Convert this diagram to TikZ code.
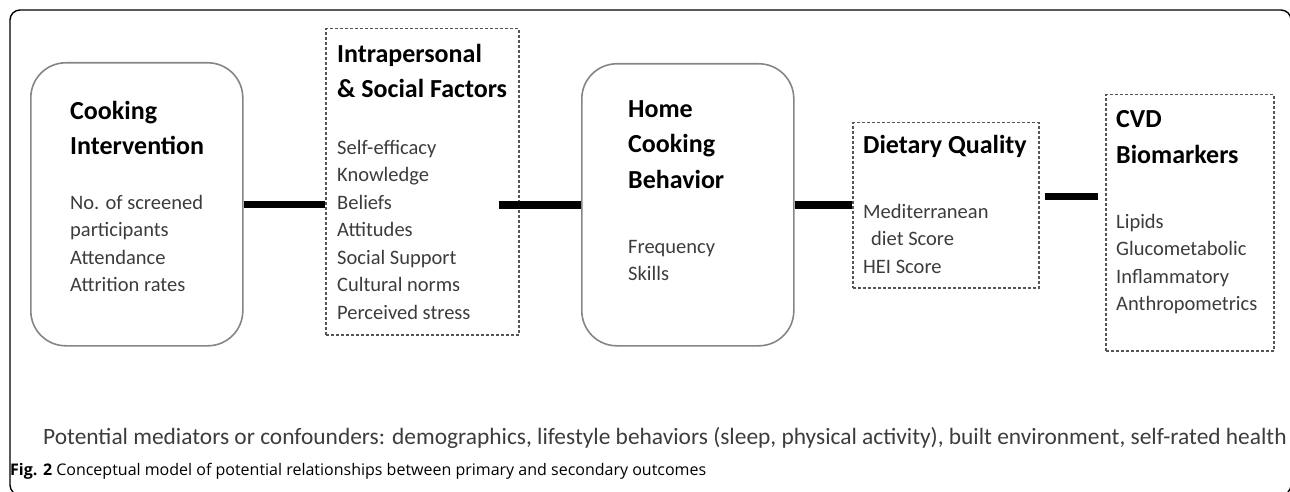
\documentclass[tikz,border=0pt]{standalone}
\usepackage{fontspec}
\setmainfont{Carlito}
\newfontfamily\capfont{Open Sans}
\usepackage{tikz}
\usetikzlibrary{calc}
\definecolor{edge}{HTML}{858585}
\definecolor{dotc}{HTML}{555555}
\definecolor{bodyc}{HTML}{3C3C3C}
\tikzset{
  outer/.style={draw=black, line width=1.4pt, rounded corners=10pt},
  rbox/.style={draw=edge, line width=1.6pt, rounded corners=35pt, anchor=north west, inner sep=0pt},
  dbox/.style={draw=dotc, line width=1.5pt, dash pattern=on 3pt off 2pt, anchor=north west, inner sep=0pt},
  link/.style={draw=black, line width=7.5pt},
  head/.style={anchor=north west, inner sep=0pt, align=left, font=\bfseries\fontsize{26}{35.3}\selectfont},
  body/.style={anchor=north west, inner sep=0pt, align=left, text=bodyc, font=\fontsize{20.5}{27.5}\selectfont},
  note/.style={anchor=base west, inner sep=0pt, text=bodyc, font=\fontsize{23.4}{26}\selectfont},
  capt/.style={anchor=base west, inner sep=0pt, font=\capfont\fontsize{16}{19}\selectfont},
}
\begin{document}
\begin{tikzpicture}[x=1pt,y=-1pt]
  \useasboundingbox (0,0) rectangle (1290,492);
  \clip (0,0) rectangle (1290,492);
  \draw[outer] (10,10) rectangle (1291,495);

  \node[rbox, minimum width=212pt, minimum height=283pt] (interv) at (30,62) {};
  \node[dbox, minimum width=193pt, minimum height=306pt] (intra) at (325,28) {};
  \node[rbox, minimum width=212pt, minimum height=282pt] (home) at (581,63) {};
  \node[dbox, minimum width=186pt, minimum height=165pt] (diet) at (852,122) {};
  \node[dbox, minimum width=168pt, minimum height=256pt] (cvd) at (1105,94) {};

  \node[head] (intervh) at (70,100.8) {Cooking\\Intervention};
  \node[body] (intervb) at (70,194.6) {No. of screened\\participants\\Attendance\\Attrition rates};
  \node[head] (intrah) at (337,43.8) {Intrapersonal\\\& Social Factors};
  \node[body] (intrab) at (337,139.6) {Self-efficacy\\Knowledge\\Beliefs\\Attitudes\\Social Support\\Cultural norms\\Perceived stress};
  \node[head] (homeh) at (628,100.6) {Home\\Cooking\\Behavior};
  \node[body] (homeb) at (628,240) {Frequency\\Skills};
  \node[head] (dieth) at (863,135.3) {Dietary Quality};
  \node[body] (dietb) at (863,203.6) {Mediterranean\\\hspace*{8pt}diet Score\\HEI Score};
  \node[head] (cvdh) at (1116,110.6) {CVD\\Biomarkers};
  \node[body] (cvdb) at (1116,213.6) {Lipids\\Glucometabolic\\Inflammatory\\Anthropometrics};

  \draw[link] (interv.east) -- (interv.east -| intra.west);
  \draw[link] ([shift={(-21,0)}]intra.east |- home.west) -- (home.west);
  \draw[link] (home.east) -- (home.east -| diet.west);
  \draw[link] ([shift={(5,-9)}]diet.east) -- ([shift={(-7,-9)}]diet.east -| cvd.west);

  \node[note] (conf) at (43,444) {Potential mediators or confounders: demographics, lifestyle behaviors (sleep, physical activity), built environment, self-rated health};
  \node[capt] (fig) at (10,475) {\textbf{Fig. 2} Conceptual model of potential relationships between primary and secondary outcomes};
\end{tikzpicture}
\end{document}
